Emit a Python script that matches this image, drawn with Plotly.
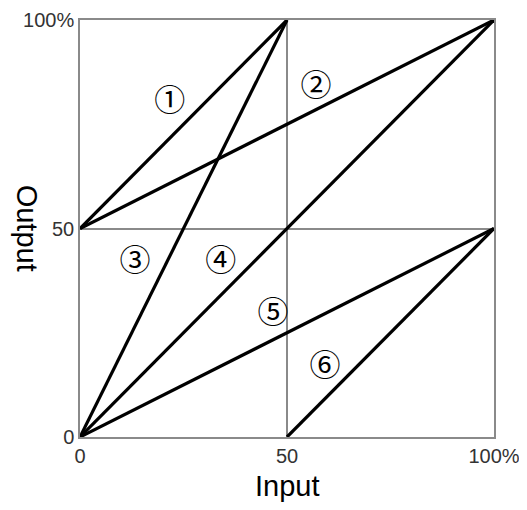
import plotly.graph_objects as go

# each mapping line: (input start, output start) -> (input end, output end)
line_names = ["1", "2", "3", "4", "5", "6"]
x_start = [0, 0, 0, 0, 0, 50]
y_start = [50, 50, 0, 0, 0, 0]
x_end = [50, 100, 50, 100, 100, 100]
y_end = [100, 100, 100, 100, 50, 50]

marker_labels = ["①", "②", "③", "④", "⑤", "⑥"]
marker_x = [21.7, 57, 13.3, 34, 46.6, 59.2]
marker_y = [80, 83.7, 41.7, 41.7, 29.3, 16.5]

tick_vals = [0, 50, 100]
x_tick_text = ["0", "50", "100%"]
y_tick_text = ["0", "50", "100%"]

grid = "#8a8a8a"
font = "Liberation Sans, Arial, sans-serif"

fig = go.Figure()
for i, name in enumerate(line_names):
    fig.add_trace(
        go.Scatter(
            x=[x_start[i], x_end[i]],
            y=[y_start[i], y_end[i]],
            mode="lines",
            line=dict(color="black", width=3.2),
            name=name,
            showlegend=False,
            cliponaxis=False,
        )
    )

fig.add_trace(
    go.Scatter(
        x=marker_x,
        y=marker_y,
        mode="text",
        text=marker_labels,
        textfont=dict(size=31, color="black", family="Noto Sans CJK JP"),
        showlegend=False,
    )
)

axis_style = dict(
    range=[0, 100],
    tickvals=tick_vals,
    showgrid=True,
    gridcolor=grid,
    gridwidth=1.5,
    zeroline=False,
    showline=True,
    linecolor=grid,
    linewidth=1.5,
    mirror=True,
    ticks="",
    automargin=False,
    tickfont=dict(size=20, color="#333", family=font),
)
fig.update_xaxes(ticktext=x_tick_text, **axis_style)
fig.update_yaxes(ticktext=y_tick_text, **axis_style)

fig.add_annotation(
    text="Output",
    xref="paper",
    yref="paper",
    x=-0.126,
    y=0.5,
    xanchor="center",
    yanchor="middle",
    showarrow=False,
    textangle=90,
    font=dict(size=29, color="black", family=font),
)
fig.add_annotation(
    text="Input",
    xref="paper",
    yref="paper",
    x=0.5,
    y=-0.118,
    xanchor="center",
    yanchor="middle",
    showarrow=False,
    font=dict(size=29, color="black", family=font),
)

# page body adds an 8px offset, so the figure is sized to fit inside the window
fig.update_layout(
    width=519,
    height=502,
    margin=dict(l=72, r=33, t=12, b=73),
    paper_bgcolor="white",
    plot_bgcolor="white",
)

fig.write_html("out.html")
